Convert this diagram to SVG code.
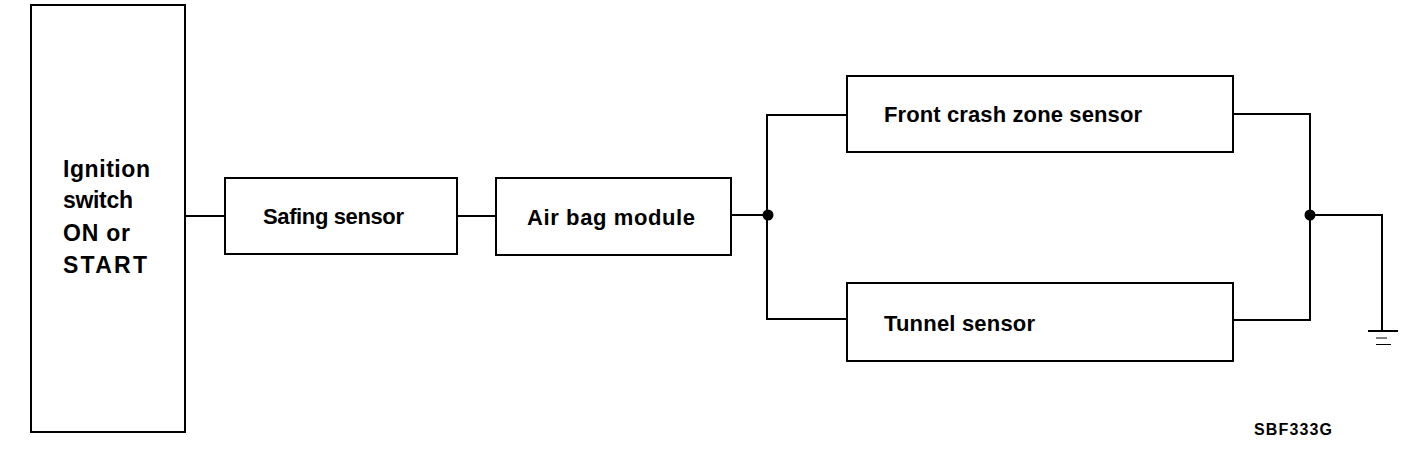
<svg xmlns="http://www.w3.org/2000/svg" width="1408" height="456" viewBox="0 0 1408 456">
<style>
.box{fill:#fff;stroke:#000;stroke-width:2}
.w{fill:none;stroke:#000;stroke-width:2;stroke-linejoin:miter}
.t{font-family:"Liberation Sans",Arial,sans-serif;font-weight:bold;font-size:22px;fill:#000}
.b{font-size:23px}
.s{font-family:"Liberation Sans",Arial,sans-serif;font-weight:bold;font-size:16px;fill:#000}
</style>
<rect width="1408" height="456" fill="#fff"/>
<g id="connectors">
<path class="w" d="M185 216H225"/>
<path class="w" d="M457 216H496"/>
<path class="w" d="M731 215H768"/>
<path class="w" d="M847 115H767V319H847"/>
<path class="w" d="M1233 114H1310V320H1233"/>
<path class="w" d="M1310 215H1382V331"/>
<circle cx="768" cy="215" r="5.5" fill="#000"/>
<circle cx="1310" cy="215" r="5.5" fill="#000"/>
</g>
<g id="ground">
<path class="w" d="M1368 331H1398"/>
<path d="M1376 338H1387M1376 344.5H1391" stroke="#000" stroke-width="1" fill="none"/>
</g>
<g id="ignition">
<rect class="box" x="31" y="5" width="154" height="427"/>
<text class="t b" x="63" y="177" textLength="87" lengthAdjust="spacing">Ignition</text>
<text class="t b" x="63" y="208" textLength="70" lengthAdjust="spacing">switch</text>
<text class="t b" x="63" y="241" textLength="67" lengthAdjust="spacing">ON or</text>
<text class="t b" x="63" y="273" textLength="84" lengthAdjust="spacing">START</text>
</g>
<g id="safing">
<rect class="box" x="225" y="178" width="232" height="76"/>
<text class="t" x="263" y="224" textLength="141" lengthAdjust="spacing">Safing sensor</text>
</g>
<g id="airbag">
<rect class="box" x="496" y="178" width="235" height="77"/>
<text class="t" x="527" y="225" textLength="168" lengthAdjust="spacing">Air bag module</text>
</g>
<g id="front">
<rect class="box" x="847" y="76" width="386" height="76"/>
<text class="t" x="884" y="122" textLength="258" lengthAdjust="spacing">Front crash zone sensor</text>
</g>
<g id="tunnel">
<rect class="box" x="847" y="283" width="386" height="78"/>
<text class="t" x="884" y="331" textLength="151" lengthAdjust="spacing">Tunnel sensor</text>
</g>
<text class="s" x="1254" y="435" textLength="78" lengthAdjust="spacing">SBF333G</text>
</svg>
